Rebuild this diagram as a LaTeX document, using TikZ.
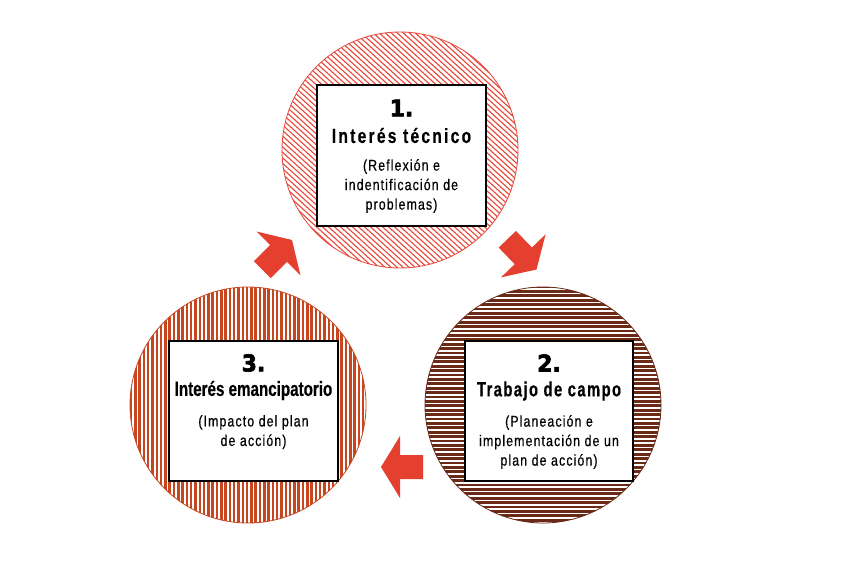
\documentclass[tikz,border=0pt]{standalone}
\usepackage{fontspec}
\setmainfont{Liberation Sans}
\newfontfamily\titlefont[FakeStretch=0.76,LetterSpace=11,FakeBold=0.4]{Liberation Sans Bold}
\newfontfamily\titlefontb[FakeStretch=0.72,LetterSpace=7,FakeBold=0.4]{Liberation Sans Bold}
\newfontfamily\titletight[FakeStretch=0.74,FakeBold=0.4]{Liberation Sans Bold}
\newfontfamily\subfont[FakeStretch=0.8,LetterSpace=7,FakeBold=0.5]{Liberation Sans}
\newfontfamily\numfont[FakeStretch=0.95,FakeBold=3]{DejaVu Sans Bold}
\definecolor{cred}{HTML}{E8473A}
\definecolor{cbrown}{HTML}{6A2A17}
\definecolor{corange}{HTML}{C8461F}
\definecolor{carrow}{HTML}{E53F30}
\tikzset{
  boxnode/.style={draw=black, fill=white, line width=1.3pt, inner sep=0pt},
  numtext/.style={font=\numfont\fontsize{23}{24}\selectfont, inner sep=0pt},
  ttext/.style={font=\titlefont\fontsize{20.5}{22}\selectfont, inner sep=0pt},
  ttextb/.style={font=\titlefontb\fontsize{20.5}{22}\selectfont, inner sep=0pt},
  ttight/.style={font=\titletight\fontsize{20.5}{22}\selectfont, inner sep=0pt},
  stext/.style={font=\subfont\fontsize{15.5}{19.5}\selectfont, inner sep=0pt, align=center},
  arrowfill/.style={fill=carrow},
}
\newcommand\bigarrowshape{(0,0) -- (-19,-31) -- (-19,-12) -- (-42,-12) -- (-42,12) -- (-19,12) -- (-19,31) -- cycle}
\begin{document}
\begin{tikzpicture}[x=1pt,y=-1pt]
\useasboundingbox[fill=white] (0,0) rectangle (850,567);
% circle 1
\begin{scope}
\clip (400,150) circle (118);
\foreach \k in {-45,...,45} \draw[cred, line width=1.1pt] (400+\k*6-220,150-200) -- ++(440,400);
\end{scope}
\draw[cred, line width=0.8pt] (400,150) circle (118);
% circle 2
\begin{scope}
\clip (543,405) circle (118);
\foreach \k in {0,...,55} \draw[cbrown, line width=2.7pt] (420,287+\k*4.4) -- (670,287+\k*4.4);
\end{scope}
\draw[cbrown, line width=0.8pt] (543,405) circle (118);
% circle 3
\begin{scope}
\clip (248,405) circle (118);
\foreach \k in {0,...,56} \draw[corange, line width=2.5pt] (131+\k*4.3,280) -- (131+\k*4.3,530);
\end{scope}
\draw[corange, line width=0.8pt] (248,405) circle (118);
% boxes
\node[boxnode, minimum width=169pt, minimum height=141pt] (b1) at (401.5,155.5) {};
\node[boxnode, minimum width=168pt, minimum height=140pt] (b2) at (549,411) {};
\node[boxnode, minimum width=169pt, minimum height=140pt] (b3) at (253.5,411) {};
% texts box 1
\node[numtext] (n1) at (401.5,108) {1.};
\node[ttext] (t1) at (401.5,135.5) {Interés técnico};
\node[stext, anchor=north] (s1) at (401.5,159) {(Reflexión e\\indentificación de\\problemas)};
% texts box 2
\node[numtext] (n2) at (549,363) {2.};
\node[ttextb] (t2) at (549,391) {Trabajo de campo};
\node[stext, anchor=north] (s2) at (549,415) {(Planeación e\\implementación de un\\plan de acción)};
% texts box 3
\node[numtext] (n3) at (253.5,363) {3.};
\node[ttight] (t3) at (253.5,390.5) {Interés emancipatorio};
\node[stext, anchor=north] (s3) at (253.5,415) {(Impacto del plan\\de acción)};
% arrows
\fill[arrowfill, shift={(292,240)}, rotate=45] \bigarrowshape;
\fill[arrowfill, shift={(536.5,269.5)}, rotate=-46] \bigarrowshape;
\fill[arrowfill, shift={(381,467)}, rotate=180] \bigarrowshape;
\end{tikzpicture}
\end{document}
